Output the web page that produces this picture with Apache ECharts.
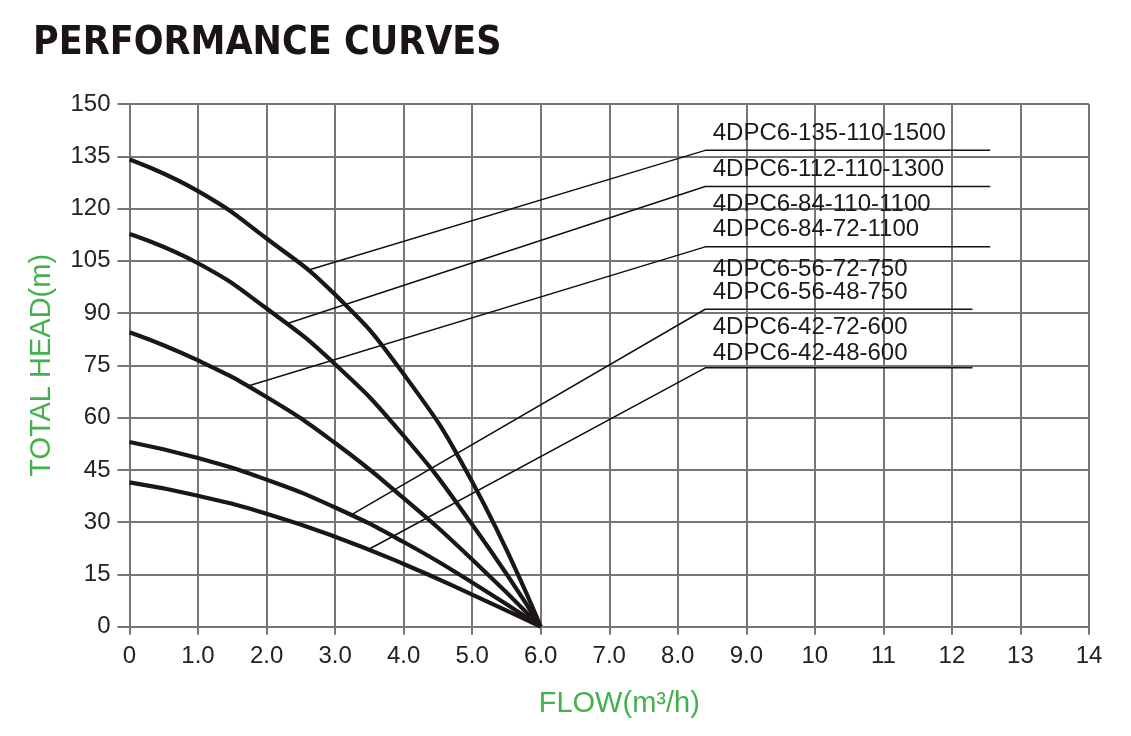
<!DOCTYPE html>
<html>
<head>
<meta charset="utf-8">
<script src="https://cdn.jsdelivr.net/npm/echarts@6/dist/echarts.min.js"></script>
<style>
html,body{margin:0;padding:0;background:#fff;}
#chart{width:1131px;height:736px;}
</style>
</head>
<body>
<div id="chart"></div>
<script>
// ---- data (flow m3/h, head m) ----
var flow    = [0, 1, 2, 3, 4, 5, 6];
var head135 = [134.1, 125.0, 111.4, 95.3, 72.5, 41.6, 0];
var head112 = [112.7, 104.3, 91.3, 75.3, 54.8, 29.3, 0];
var head84  = [84.5, 76.4, 65.9, 52.7, 36.9, 19.3, 0];
var head56  = [53.0, 48.4, 42.2, 34.2, 24.3, 12.7, 0];
var head42  = [41.4, 37.6, 32.4, 25.8, 18.0, 9.2, 0];

var modelNames = [
  '4DPC6-135-110-1500',
  '4DPC6-112-110-1300',
  '4DPC6-84-110-1100',
  '4DPC6-84-72-1100',
  '4DPC6-56-72-750',
  '4DPC6-56-48-750',
  '4DPC6-42-72-600',
  '4DPC6-42-48-600'
];
// label anchors (flow, head) in chart units
var labelFlow = 8.51;
var labelHead = [141.6, 131.1, 121.2, 114.0, 102.6, 95.8, 86.0, 78.3];

// leader lines: curve point -> underline start -> underline end (chart units)
var leader1 = [[2.59, 102.2], [8.40, 136.7], [12.56, 136.7]];
var leader2 = [[2.27, 86.8], [8.40, 126.3], [12.56, 126.3]];
var leader3 = [[1.73, 69.1], [8.40, 109.0], [12.56, 109.0]];
var leader4 = [[3.21, 31.8], [8.40, 91.1], [12.30, 91.1]];
var leader5 = [[3.50, 22.3], [8.40, 74.3], [12.30, 74.3]];

var yTicks = [0, 15, 30, 45, 60, 75, 90, 105, 120, 135, 150];

function pairs(xs, ys) { return xs.map(function (x, i) { return [x, ys[i]]; }); }

var gridColor = '#767676';
var curveColor = '#1c1717';
var green = '#45b04e';
var sans = 'Liberation Sans, Arial, sans-serif';

var curves = [head135, head112, head84, head56, head42].map(function (h) {
  return {
    type: 'line', data: pairs(flow, h), smooth: 0.5,
    symbol: 'none', lineStyle: { color: curveColor, width: 4.2 }, z: 5, silent: true
  };
});
var leaders = [leader1, leader2, leader3, leader4, leader5].map(function (d) {
  return {
    type: 'line', data: d, symbol: 'none',
    lineStyle: { color: '#111', width: 1.5 }, z: 4, silent: true
  };
});
var labels = {
  type: 'scatter', symbolSize: 0, silent: true, z: 6,
  itemStyle: { opacity: 1 },
  data: modelNames.map(function (n, i) { return { name: n, value: [labelFlow, labelHead[i]] }; }),
  label: {
    show: true, position: 'right', distance: 0,
    formatter: function (p) { return p.name; },
    fontFamily: sans, fontSize: 24, color: '#1a1a1a'
  }
};

var chart = echarts.init(document.getElementById('chart'), null, { renderer: 'canvas' });
chart.setOption({
  animation: false,
  backgroundColor: '#fff',
  title: {
    text: 'PERFORMANCE CURVES', left: 28, top: 19,
    textStyle: {
      fontFamily: 'Liberation Sans Narrow, DejaVu Sans Condensed, Arial Narrow, sans-serif',
      fontWeight: 'bold', fontSize: 39, color: '#1a1414'
    }
  },
  grid: { left: 129.5, right: 42, top: 104, bottom: 109.3, containLabel: false },
  xAxis: {
    type: 'value', min: 0, max: 14, interval: 1,
    name: 'FLOW(m³/h)', nameLocation: 'middle', nameGap: 63,
    nameTextStyle: { color: green, fontSize: 29, fontFamily: sans, padding: [0, 0, 0, 20] },
    axisLine: { show: true, lineStyle: { color: gridColor, width: 2 } },
    axisTick: { show: true, length: 8, lineStyle: { color: gridColor, width: 2 } },
    splitLine: { show: true, lineStyle: { color: gridColor, width: 2 } },
    axisLabel: {
      margin: 18, color: '#222', fontSize: 24, fontFamily: sans,
      formatter: function (v) { return (v > 0 && v < 10) ? v.toFixed(1) : String(v); }
    }
  },
  yAxis: {
    type: 'value', min: 0, max: 150, interval: 15,
    name: 'TOTAL HEAD(m)', nameLocation: 'middle', nameGap: 73, nameRotate: 90,
    nameTextStyle: { color: green, fontSize: 29, fontFamily: sans },
    axisLine: { show: true, lineStyle: { color: gridColor, width: 2 } },
    axisTick: { show: true, length: 12, lineStyle: { color: gridColor, width: 2 } },
    splitLine: { show: true, lineStyle: { color: gridColor, width: 2 } },
    axisLabel: {
      margin: 19, color: '#222', fontSize: 24, fontFamily: sans,
      formatter: function (v) { return yTicks.indexOf(v) >= 0 ? String(v) : ''; }
    }
  },
  series: curves.concat(leaders).concat([labels])
});
</script>
</body>
</html>
